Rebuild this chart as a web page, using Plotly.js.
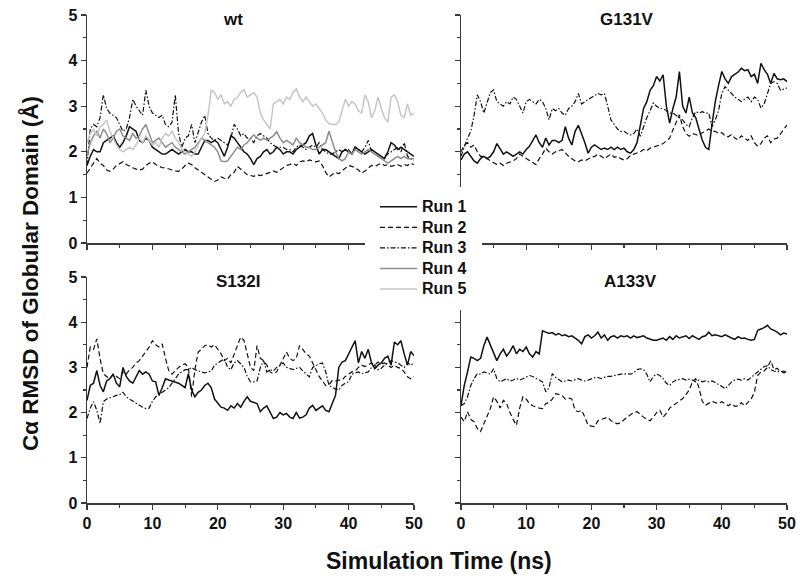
<!DOCTYPE html>
<html><head><meta charset="utf-8">
<script src="https://cdn.plot.ly/plotly-3.0.1.min.js"></script>
<style>html,body{margin:0;padding:0;background:#fff}</style>
</head><body><div id="chart" style="width:800px;height:576px"></div>
<script>
const timeNs = [0,0.5,1,1.5,2,2.5,3,3.5,4,4.5,5,5.5,6,6.5,7,7.5,8,8.5,9,9.5,10,10.5,11,11.5,12,12.5,13,13.5,14,14.5,15,15.5,16,16.5,17,17.5,18,18.5,19,19.5,20,20.5,21,21.5,22,22.5,23,23.5,24,24.5,25,25.5,26,26.5,27,27.5,28,28.5,29,29.5,30,30.5,31,31.5,32,32.5,33,33.5,34,34.5,35,35.5,36,36.5,37,37.5,38,38.5,39,39.5,40,40.5,41,41.5,42,42.5,43,43.5,44,44.5,45,45.5,46,46.5,47,47.5,48,48.5,49,49.5,50];

const panelNames = ["wt","G131V","S132I","A133V"];
const runNames = ["Run 1","Run 2","Run 3","Run 4","Run 5"];

const wtRun1 = [1.7,1.9,2.05,2.0,2.0,2.2,2.25,2.3,2.35,2.2, 2.1,2.2,2.35,2.55,2.5,2.45,2.25,2.2,2.3,2.25, 2.1,2.05,2.0,1.95,1.95,2.0,2.05,2.0,1.95,2.0, 2.05,2.0,2.0,1.95,1.95,2.1,2.25,2.25,2.2,2.25, 2.2,2.05,1.9,2.1,2.35,2.3,2.2,2.1,2.0,1.95, 1.85,1.72,1.85,1.9,2.0,2.05,1.95,2.0,2.1,2.05, 1.95,2.0,2.0,1.95,2.05,2.1,2.15,2.2,2.35,2.4, 2.15,1.95,2.05,2.05,2.0,1.95,1.9,1.85,2.0,2.05, 2.0,1.95,2.1,2.05,2.0,1.95,2.0,2.05,2.0,1.95, 1.9,1.85,2.0,2.2,2.15,2.05,2.1,2.05,2.0,1.95, 1.9];
const wtRun2 = [1.53,1.65,1.75,1.85,1.75,1.7,1.6,1.57,1.62,1.7, 1.75,1.78,1.72,1.68,1.65,1.62,1.6,1.62,1.7,1.75, 1.78,1.72,1.68,1.65,1.65,1.62,1.6,1.58,1.57,1.62, 1.7,1.75,1.72,1.65,1.6,1.55,1.5,1.45,1.4,1.35, 1.38,1.45,1.42,1.4,1.5,1.55,1.68,1.62,1.55,1.5, 1.48,1.46,1.5,1.48,1.5,1.52,1.55,1.58,1.55,1.6, 1.65,1.7,1.72,1.75,1.7,1.78,1.8,1.78,1.82,1.8, 1.78,1.8,1.7,1.55,1.45,1.5,1.55,1.52,1.58,1.62, 1.7,1.68,1.65,1.6,1.53,1.58,1.65,1.7,1.68,1.72, 1.75,1.7,1.72,1.68,1.7,1.72,1.68,1.72,1.7,1.75, 1.72];
const wtRun3 = [1.7,2.5,2.6,2.55,2.75,3.25,2.95,2.85,2.8,2.75, 2.6,2.45,2.5,2.75,3.15,3.0,2.9,2.8,3.35,3.0, 2.85,2.8,2.75,2.8,2.6,2.55,2.65,3.25,2.4,2.1, 2.3,2.35,2.6,2.2,2.45,2.65,2.8,2.4,2.3,2.25, 2.3,2.25,2.2,2.15,2.3,2.6,2.5,2.35,2.4,2.3, 2.3,2.2,2.35,2.4,2.35,2.3,2.2,2.15,2.1,2.1, 2.1,2.05,2.05,2.0,2.1,2.15,2.1,2.05,2.1,2.15, 2.1,2.2,2.05,2.0,1.95,1.95,2.0,2.05,2.0,2.05, 2.05,1.95,2.1,2.05,2.0,2.1,2.25,2.0,1.95,1.9, 1.85,1.9,1.95,2.0,2.05,2.1,2.0,2.2,1.9,1.85, 1.8];
const wtRun4 = [1.9,2.2,2.35,2.45,2.3,2.5,2.4,2.2,2.3,2.45, 2.5,2.35,2.3,2.25,2.4,2.3,2.35,2.5,2.6,2.4, 2.2,2.25,2.3,2.2,2.1,2.15,2.2,2.1,2.05,2.0, 1.95,2.0,2.05,2.1,2.2,2.3,2.25,2.2,2.15,2.1, 2.0,1.8,1.78,1.8,1.9,2.0,2.1,2.05,2.15,2.2, 2.3,2.37,2.3,2.25,2.3,2.25,2.3,2.35,2.44,2.3, 2.2,2.25,2.2,2.15,2.3,2.2,2.15,2.1,2.1,2.05, 2.05,2.1,2.15,2.2,2.45,2.2,2.0,1.85,1.8,1.85, 2.0,1.95,2.05,2.0,1.95,2.0,2.05,2.0,1.95,1.9, 1.85,1.8,1.75,1.8,1.85,1.9,1.85,1.9,1.85,1.85, 1.85];
const wtRun5 = [2.2,2.4,2.5,2.35,2.55,2.6,2.7,2.45,2.3,2.15, 2.05,2.0,2.05,2.1,2.05,2.15,2.3,2.2,2.35,2.25, 2.15,2.2,2.1,2.3,2.4,2.35,2.45,2.3,2.2,2.05, 2.0,1.95,1.9,2.0,2.15,2.3,2.4,2.8,3.35,3.3, 3.15,3.25,3.05,3.1,3.0,3.15,3.2,3.3,3.36,3.2, 3.25,3.3,3.2,2.85,2.7,2.6,2.5,3.05,3.1,3.15, 3.05,3.2,3.15,3.3,3.38,3.2,3.1,3.2,3.1,3.0, 3.05,2.95,2.85,2.7,2.62,2.6,2.6,2.65,2.9,3.15, 3.0,3.1,3.05,2.9,2.85,3.25,3.1,2.75,2.9,3.2, 2.95,2.75,2.65,3.2,3.25,3.1,2.8,2.75,3.05,2.8, 2.85];

const g131vRun1 = [1.82,1.95,2.0,1.9,1.8,1.75,1.85,1.9,1.85,1.9, 2.0,2.18,2.05,1.95,2.0,1.95,1.9,1.95,2.0,1.95, 2.05,2.12,2.25,2.37,2.2,2.1,2.3,2.15,2.25,2.25, 2.2,2.25,2.55,2.3,2.15,2.45,2.58,2.4,2.2,1.97, 2.1,2.15,2.1,2.05,2.08,2.05,2.1,2.05,2.1,2.05, 2.08,2.0,1.97,2.05,2.2,2.6,2.95,3.1,3.35,3.45, 3.65,3.55,3.69,3.0,2.63,2.95,3.2,3.76,3.0,2.85, 3.2,2.85,2.75,2.5,2.26,2.1,2.05,2.6,3.1,3.45, 3.76,3.6,3.5,3.65,3.7,3.75,3.83,3.78,3.8,3.65, 3.7,3.5,3.94,3.8,3.7,3.5,3.72,3.6,3.58,3.6, 3.54];
const g131vRun2 = [2.0,2.15,2.2,2.1,2.15,2.0,1.9,1.9,1.85,1.8, 1.75,1.72,1.75,1.7,1.75,1.78,1.8,1.85,1.95,1.9, 1.85,1.8,1.75,1.72,1.85,1.95,2.08,2.0,1.95,2.0, 2.02,2.05,1.98,1.9,1.85,1.8,1.78,1.82,1.8,1.85, 1.88,1.9,1.95,1.9,1.85,1.9,1.95,1.88,1.9,1.85, 1.82,1.85,1.92,1.95,1.98,2.0,2.05,2.02,2.08,2.1, 2.12,2.15,2.18,2.23,2.3,2.48,2.65,2.81,2.55,2.4, 2.34,2.4,2.38,2.35,2.42,2.45,2.5,2.45,2.45,2.4, 2.42,2.35,2.33,2.38,2.3,2.26,2.35,2.3,2.25,2.35, 2.2,2.12,2.18,2.3,2.35,2.2,2.28,2.3,2.4,2.48, 2.59];
const g131vRun3 = [1.9,2.1,2.3,2.45,2.8,3.25,3.1,2.85,3.1,3.3, 3.36,3.1,3.05,3.0,3.1,3.05,3.2,3.15,3.0,2.85, 3.1,3.15,3.1,3.05,3.15,3.1,2.95,2.7,2.95,2.9, 2.95,2.85,2.8,2.95,3.0,3.1,3.28,3.05,3.1,3.15, 3.2,3.25,3.28,3.25,3.28,3.0,2.7,2.6,2.5,2.45, 2.45,2.4,2.37,2.4,2.5,2.34,2.55,2.75,2.9,3.07, 3.0,2.95,2.95,2.9,2.85,2.85,2.8,2.75,2.7,2.6, 2.55,2.75,2.88,2.85,2.88,2.85,2.85,2.55,2.7,2.9, 3.28,3.43,3.35,3.28,3.2,3.15,3.1,3.15,3.2,3.1, 3.2,3.15,2.96,3.05,3.3,3.5,3.54,3.5,3.35,3.38, 3.4];

const s132iRun1 = [2.27,2.6,2.65,2.93,2.6,2.46,2.7,2.75,2.85,2.65, 2.57,3.0,2.8,2.7,2.65,2.8,2.93,2.85,2.9,2.85, 2.7,2.68,2.38,2.55,2.75,2.72,2.7,2.68,2.65,2.6, 2.55,2.86,2.5,2.35,2.45,2.5,2.6,2.65,2.55,2.3, 2.2,2.12,2.1,2.05,2.15,2.1,2.2,2.12,2.25,2.35, 2.25,2.22,2.2,2.02,2.1,2.15,2.0,1.87,1.9,2.0, 1.95,1.98,1.9,1.87,2.0,1.88,1.9,1.95,2.1,2.16, 2.05,2.1,2.15,2.05,2.02,2.2,2.38,3.0,3.12,3.15, 3.3,3.45,3.59,3.1,3.35,3.2,3.4,3.1,2.97,3.05, 3.1,3.2,3.25,3.05,3.56,3.5,3.59,3.3,3.05,3.35, 3.26];
const s132iRun2 = [3.0,3.45,3.4,3.63,3.19,2.86,2.8,2.75,2.85,2.8, 2.75,2.9,2.85,2.95,3.0,3.1,3.15,3.25,3.35,3.45, 3.59,3.5,3.45,3.52,3.2,2.93,2.85,2.93,3.0,3.05, 3.08,3.0,2.35,2.95,3.34,3.4,3.48,3.5,3.45,3.5, 3.4,3.3,3.15,3.2,3.1,3.3,3.5,3.67,3.6,3.3, 3.0,2.93,3.48,3.2,3.15,3.05,2.9,2.86,2.9,3.05, 3.2,3.34,3.2,3.15,3.2,3.48,3.4,3.3,3.25,3.1, 2.95,2.8,2.7,2.6,2.62,2.71,2.7,2.72,2.72,2.8, 2.85,2.9,2.92,3.0,3.05,3.02,3.05,3.1,3.05,3.12, 3.08,3.1,3.05,3.0,3.05,3.0,2.98,2.9,2.79,2.75, 2.8];
const s132iRun3 = [1.87,2.1,2.24,2.05,1.76,2.24,2.3,2.32,2.35,2.38, 2.4,2.45,2.35,2.3,2.25,2.2,2.15,2.12,2.09,2.1, 2.25,2.35,2.4,2.45,2.5,2.55,2.65,2.75,2.85,2.9, 2.95,2.95,3.0,2.95,2.92,2.9,2.88,2.9,2.92,3.05, 3.1,3.15,3.19,3.0,2.95,3.1,3.15,3.08,3.0,2.8, 2.68,2.68,2.7,3.0,3.15,2.9,2.95,2.92,3.0,3.04, 3.1,3.0,2.97,2.95,2.98,3.0,2.92,2.85,2.79,3.0, 3.04,3.08,3.1,2.9,2.6,2.55,2.52,2.5,2.6,2.65, 2.68,2.85,2.88,2.9,2.86,2.88,2.9,3.0,3.05,2.95, 2.98,3.05,3.1,3.15,3.12,3.1,3.05,3.0,3.1,3.05, 3.1];

const a133vRun1 = [2.16,2.6,2.9,3.23,3.2,3.15,3.2,3.48,3.67,3.5, 3.35,3.15,3.3,3.4,3.25,3.35,3.48,3.3,3.4,3.35, 3.45,3.3,3.23,3.35,3.3,3.81,3.78,3.75,3.77,3.72, 3.75,3.7,3.72,3.68,3.7,3.65,3.6,3.52,3.68,3.72, 3.65,3.7,3.78,3.65,3.72,3.6,3.68,3.7,3.65,3.7, 3.68,3.7,3.65,3.7,3.66,3.68,3.7,3.65,3.62,3.6, 3.6,3.62,3.65,3.6,3.68,3.62,3.7,3.65,3.68,3.7, 3.64,3.7,3.66,3.62,3.68,3.7,3.78,3.7,3.72,3.7, 3.68,3.72,3.68,3.65,3.62,3.68,3.64,3.65,3.62,3.6, 3.62,3.82,3.85,3.88,3.93,3.85,3.82,3.78,3.72,3.76, 3.74];
const a133vRun2 = [1.9,1.8,2.02,1.85,1.8,1.65,1.58,1.75,1.95,2.09, 2.35,2.25,2.1,2.27,2.2,2.0,1.85,1.72,2.1,2.35, 2.3,2.2,2.15,2.12,2.1,2.09,2.2,2.22,2.3,2.42, 2.4,2.38,2.3,2.32,2.3,2.05,2.02,2.05,1.9,1.72, 1.7,1.69,1.82,1.85,1.88,1.9,1.82,1.78,1.75,1.78, 1.85,1.9,1.95,2.0,2.02,1.95,1.9,1.85,1.82,1.9, 2.0,2.05,1.9,1.98,2.1,2.15,2.2,2.25,2.31,2.4, 2.5,2.68,2.75,2.55,2.25,2.16,2.2,2.25,2.22,2.2, 2.24,2.2,2.15,2.2,2.14,2.15,2.22,2.15,2.22,2.3, 2.45,2.82,2.9,2.92,3.0,3.15,2.95,2.98,2.9,2.92, 2.9];
const a133vRun3 = [2.15,2.2,2.35,2.6,2.75,2.86,2.85,2.9,2.88,2.85, 2.97,2.75,2.68,2.72,2.75,2.7,2.72,2.76,2.72,2.75, 2.78,2.82,2.8,2.75,2.72,2.68,2.46,2.55,2.86,2.78, 2.72,2.68,2.7,2.72,2.7,2.72,2.75,2.72,2.7,2.72, 2.75,2.77,2.78,2.75,2.78,2.8,2.8,2.82,2.83,2.85, 2.85,2.86,2.85,2.88,2.95,2.97,2.95,2.85,2.68,2.8, 2.85,2.82,2.75,2.65,2.6,2.68,2.72,2.73,2.75,2.72, 2.74,2.72,2.68,2.72,2.68,2.7,2.68,2.7,2.65,2.62, 2.58,2.53,2.6,2.68,2.72,2.74,2.72,2.75,2.72,2.78, 2.85,2.92,2.98,3.02,3.04,2.95,2.92,2.9,2.92,2.88, 2.9];

const panelSeries = [
  [wtRun1, wtRun2, wtRun3, wtRun4, wtRun5],
  [g131vRun1, g131vRun2, g131vRun3],
  [s132iRun1, s132iRun2, s132iRun3],
  [a133vRun1, a133vRun2, a133vRun3]
];

const runStyles = [
  {color:'#111111', width:1.5, dash:'solid'},
  {color:'#111111', width:1.2, dash:'5px,3px'},
  {color:'#111111', width:1.2, dash:'5px,2px,1.5px,2px'},
  {color:'#8e8e8e', width:1.5, dash:'solid'},
  {color:'#c6c6c6', width:1.5, dash:'solid'}
];

const W = 800, H = 576;
const px = v => v / W;
const py = v => 1 - v / H;
const FONT = 'Arial, "Liberation Sans", sans-serif';

const traces = [];
panelSeries.forEach((runs, p) => {
  const suffix = p === 0 ? '' : String(p + 1);
  runs.forEach((vals, r) => {
    traces.push({
      type: 'scatter', mode: 'lines',
      x: timeNs, y: vals,
      name: '<span style="font-size:16px">' + runNames[r] + '</span>',
      xaxis: 'x' + suffix, yaxis: 'y' + suffix,
      showlegend: p === 0,
      line: Object.assign({}, runStyles[r]),
      hoverinfo: 'skip'
    });
  });
});

const xDomL = [px(87), px(414)], xDomR = [px(461), px(787)];
const yDomT = [py(243), py(15)], yDomB = [py(503), py(277)];
const tickFont = {family: FONT, size: 16, color: '#111', weight: 'bold'};

function xAx(dom, anchor, labels) {
  return {
    domain: dom, anchor: anchor, range: [0, 50], dtick: 10, tick0: 0,
    showline: true, linecolor: '#3a3a3a', linewidth: 1.5,
    ticks: 'outside', ticklen: 5, tickwidth: 1.3, tickcolor: '#3a3a3a',
    minor: {dtick: 5, ticks: 'outside', ticklen: 3, tickwidth: 1.1, tickcolor: '#3a3a3a', showgrid: false},
    showgrid: false, zeroline: false, showticklabels: labels, tickfont: tickFont, fixedrange: true
  };
}
function yAx(dom, anchor, labels) {
  return {
    domain: dom, anchor: anchor, range: [0, 5], dtick: 1, tick0: 0,
    showline: true, linecolor: '#3a3a3a', linewidth: 1.5,
    ticks: 'outside', ticklen: 5, tickwidth: 1.3, tickcolor: '#3a3a3a',
    minor: {dtick: 0.5, ticks: 'outside', ticklen: 3, tickwidth: 1.1, tickcolor: '#3a3a3a', showgrid: false},
    showgrid: false, zeroline: false, showticklabels: labels, tickfont: tickFont, fixedrange: true
  };
}

const titlePos = [[233, 20], [627, 20], [238, 282], [630, 282]];
const annotations = panelNames.map((n, i) => ({
  text: n, xref: 'paper', yref: 'paper', x: px(titlePos[i][0]), y: py(titlePos[i][1]),
  xanchor: 'center', yanchor: 'middle', showarrow: false,
  font: {family: FONT, size: 17, color: '#111', weight: 'bold'}
}));
annotations.push({
  text: 'Cα RMSD of Globular Domain (Å)', xref: 'paper', yref: 'paper',
  x: px(30), y: py(274), textangle: -90, xanchor: 'center', yanchor: 'middle', showarrow: false,
  font: {family: FONT, size: 22.5, color: '#111', weight: 'bold'}
});
annotations.push({
  text: 'Simulation Time (ns)', xref: 'paper', yref: 'paper',
  x: px(439), y: py(561), xanchor: 'center', yanchor: 'middle', showarrow: false,
  font: {family: FONT, size: 23, color: '#111', weight: 'bold'}
});

const layout = {
  width: W, height: H, margin: {l: 0, r: 0, t: 0, b: 0},
  paper_bgcolor: '#fff', plot_bgcolor: 'rgba(0,0,0,0)',
  showlegend: true,
  legend: {
    x: px(375), y: py(191.5), xanchor: 'left', yanchor: 'top',
    bgcolor: 'rgba(0,0,0,0)', borderwidth: 0, tracegroupgap: 0, itemwidth: 37,
    font: {family: FONT, size: 13.5, color: '#111', weight: 'bold'}
  },
  xaxis: xAx(xDomL, 'y', false), yaxis: yAx(yDomT, 'x', true),
  xaxis2: xAx(xDomR, 'y2', false), yaxis2: yAx(yDomT, 'x2', false),
  xaxis3: xAx(xDomL, 'y3', true), yaxis3: yAx(yDomB, 'x3', true),
  xaxis4: xAx(xDomR, 'y4', true), yaxis4: yAx(yDomB, 'x4', false),
  shapes: [{
    type: 'rect', xref: 'paper', yref: 'paper', layer: 'above',
    x0: px(365), x1: px(482), y0: py(310), y1: py(187),
    fillcolor: '#ffffff', line: {width: 0}
  }],
  annotations: annotations
};

Plotly.newPlot('chart', traces, layout, {displayModeBar: false, staticPlot: true});
</script>
</body></html>
